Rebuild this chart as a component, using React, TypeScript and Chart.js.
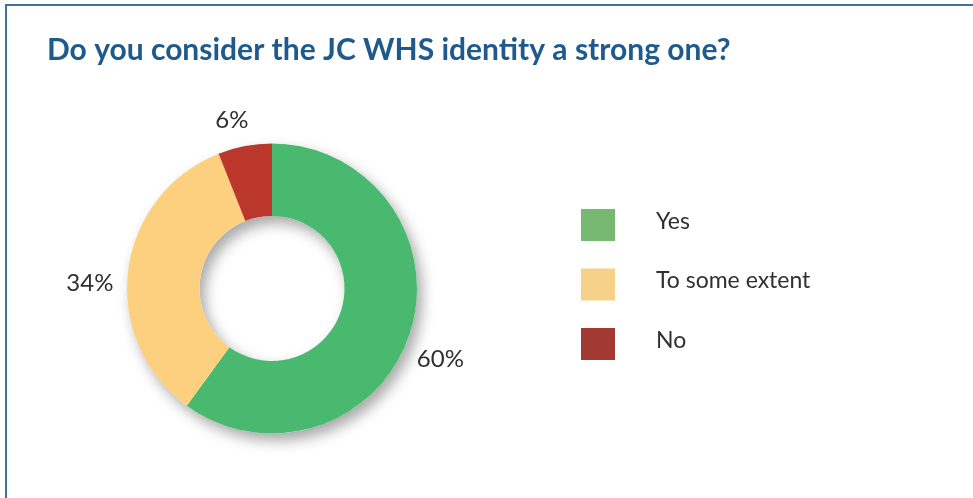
import React, { useEffect, useRef } from 'react';
import { Chart, registerables } from 'chart.js';

Chart.register(...registerables);

const titleText = 'Do you consider the JC WHS identity a strong one?';
const categories = ['Yes', 'To some extent', 'No'];
const shares = [60, 34, 6];
const sliceColors = ['#48B96E', '#FDD07F', '#BB372B'];
const legendColors = ['#77B873', '#F5D189', '#A03A33'];

const FONT = 'Lato, "Noto Sans", sans-serif';
const TEXT_COLOR = '#303030';

// Place the doughnut's drawing area independently of the title box.
const areaPlugin = {
  id: 'placeArea',
  afterLayout(chart: any, _args: any, opts: any) {
    const a = chart.chartArea;
    a.left = opts.left;
    a.top = opts.top;
    a.right = opts.left + opts.size;
    a.bottom = opts.top + opts.size;
    a.width = opts.size;
    a.height = opts.size;
  },
};

// Soft drop shadow under the whole ring.
const shadowPlugin = {
  id: 'ringShadow',
  beforeDatasetsDraw(chart: any, _args: any, opts: any) {
    const meta = chart.getDatasetMeta(0);
    if (!meta.data.length) return;
    const { x, y, outerRadius, innerRadius } = meta.data[0].getProps(
      ['x', 'y', 'outerRadius', 'innerRadius'],
      true
    );
    const ctx = chart.ctx;
    ctx.save();
    ctx.shadowColor = opts.color;
    ctx.shadowBlur = opts.blur;
    ctx.shadowOffsetX = opts.offsetX;
    ctx.shadowOffsetY = opts.offsetY;
    ctx.beginPath();
    ctx.arc(x, y, outerRadius, 0, Math.PI * 2);
    ctx.arc(x, y, innerRadius, 0, Math.PI * 2, true);
    ctx.fillStyle = '#ffffff';
    ctx.fill('evenodd');
    ctx.restore();
  },
};

// Percentage labels just outside each slice (with small manual nudges,
// as the labels in the original were hand placed).
const outsideLabels = {
  id: 'outsideLabels',
  afterDatasetsDraw(chart: any, _args: any, opts: any) {
    const ctx = chart.ctx;
    const meta = chart.getDatasetMeta(0);
    const values = chart.data.datasets[0].data as number[];
    ctx.save();
    ctx.font = `${opts.size}px ${FONT}`;
    ctx.fillStyle = TEXT_COLOR;
    ctx.textAlign = 'center';
    ctx.textBaseline = 'middle';
    meta.data.forEach((el: any, i: number) => {
      const { x, y, startAngle, endAngle, outerRadius } = el.getProps(
        ['x', 'y', 'startAngle', 'endAngle', 'outerRadius'],
        true
      );
      const mid = (startAngle + endAngle) / 2;
      const dx = Math.cos(mid);
      const dy = Math.sin(mid);
      const text = `${values[i]}%`;
      const w = ctx.measureText(text).width;
      const h = opts.size * 0.8;
      const support = Math.abs(dx) * (w / 2) + Math.abs(dy) * (h / 2);
      const r = outerRadius + opts.gap + support;
      const [nx, ny] = opts.nudge[i] || [0, 0];
      ctx.fillText(text, x + dx * r + nx, y + dy * r + ny);
    });
    ctx.restore();
  },
};

// Legend with square swatches and a wide gap before the text.
const sideLegend = {
  id: 'sideLegend',
  afterDraw(chart: any, _args: any, opts: any) {
    const ctx = chart.ctx;
    const labels = chart.data.labels as string[];
    ctx.save();
    ctx.font = `${opts.size}px ${FONT}`;
    ctx.textAlign = 'left';
    ctx.textBaseline = 'alphabetic';
    labels.forEach((label, i) => {
      const top = opts.top + i * opts.step;
      ctx.fillStyle = legendColors[i];
      ctx.fillRect(opts.left, top, opts.boxW, opts.boxH);
      ctx.fillStyle = TEXT_COLOR;
      ctx.fillText(label, opts.textLeft, top + opts.baseline);
    });
    ctx.restore();
  },
};

export default function App() {
  const ref = useRef<HTMLCanvasElement>(null);

  useEffect(() => {
    if (!ref.current) return;
    const chart = new Chart(ref.current, {
      type: 'doughnut',
      data: {
        labels: categories,
        datasets: [
          {
            data: shares,
            backgroundColor: sliceColors,
            borderWidth: 0,
            hoverOffset: 0,
          },
        ],
      },
      options: {
        responsive: false,
        animation: false,
        cutout: '50%',
        layout: { padding: { left: 47, top: 0, right: 0, bottom: 0 } },
        events: [],
        plugins: {
          legend: { display: false },
          tooltip: { enabled: false },
          title: {
            display: true,
            text: titleText,
            align: 'start',
            color: '#1F5A8D',
            font: { family: FONT, size: 30, weight: 'bold' },
            padding: { top: 32, bottom: 0 },
          },
          placeArea: { left: 127, top: 143.5, size: 290 },
          ringShadow: { color: 'rgba(0,0,0,0.35)', blur: 14, offsetX: 5, offsetY: 7 },
          outsideLabels: {
            size: 24,
            gap: 14,
            nudge: [
              [-7, 14],
              [0, 18],
              [-8, 0],
            ],
          },
          sideLegend: {
            left: 581,
            top: 209,
            step: 59.5,
            boxW: 34,
            boxH: 32,
            textLeft: 656,
            baseline: 19.5,
            size: 23,
          },
        } as any,
      },
      plugins: [areaPlugin, shadowPlugin, outsideLabels, sideLegend],
    });
    return () => chart.destroy();
  }, []);

  return (
    <div
      style={{
        position: 'fixed',
        left: 0,
        top: 0,
        width: 973,
        height: 498,
        overflow: 'hidden',
        background: '#ffffff',
      }}
    >
      <div
        style={{
          position: 'absolute',
          left: 5,
          top: 4,
          width: 2000,
          height: 2000,
          borderTop: '2px solid #3F70A0',
          borderLeft: '2px solid #3F70A0',
        }}
      />
      <canvas
        ref={ref}
        width={973}
        height={498}
        style={{ position: 'absolute', left: 0, top: 0, width: 973, height: 498 }}
      />
    </div>
  );
}
